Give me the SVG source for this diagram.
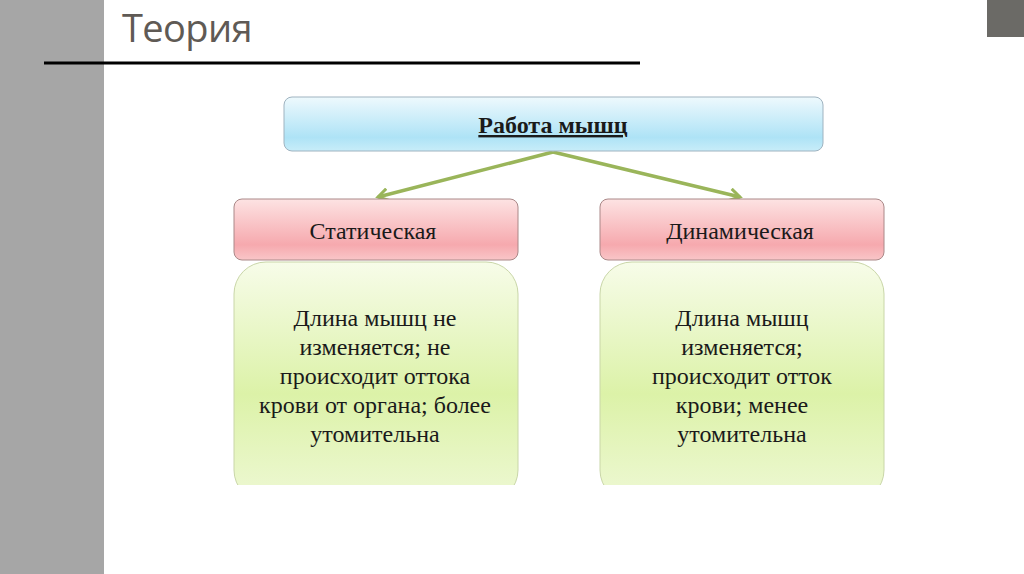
<svg xmlns="http://www.w3.org/2000/svg" width="1024" height="574" viewBox="0 0 1024 574">
  <defs>
    <linearGradient id="gBlue" x1="0" y1="0" x2="0" y2="1">
      <stop offset="0" stop-color="#eef9fd"/>
      <stop offset="0.75" stop-color="#aee3f6"/>
      <stop offset="1" stop-color="#c8edf9"/>
    </linearGradient>
    <linearGradient id="gPink" x1="0" y1="0" x2="0" y2="1">
      <stop offset="0" stop-color="#fde3e3"/>
      <stop offset="0.75" stop-color="#f6a9ae"/>
      <stop offset="1" stop-color="#f9c6c8"/>
    </linearGradient>
    <linearGradient id="gGreen" x1="0" y1="0" x2="0" y2="1">
      <stop offset="0" stop-color="#f7fce9"/>
      <stop offset="0.55" stop-color="#dcf2a8"/>
      <stop offset="1" stop-color="#eef8d4"/>
    </linearGradient>
    <marker id="arr" markerWidth="14" markerHeight="14" refX="11" refY="7" orient="auto" markerUnits="userSpaceOnUse">
      <path d="M1,1 L11,7 L1,13" fill="none" stroke="#9ab55a" stroke-width="3" stroke-linejoin="miter"/>
    </marker>
  </defs>
  <style>
    .body { font-family: "Liberation Serif", "DejaVu Serif", serif; font-size: 24px; fill: #1a1a1a; text-anchor: middle; }
    .head { font-family: "Liberation Serif", "DejaVu Serif", serif; font-size: 24px; fill: #1a1a1a; text-anchor: middle; }
    .edge { fill: none; stroke: #9ab55a; stroke-width: 3.5; }
  </style>
  <rect width="1024" height="574" fill="#ffffff"/>
  <rect x="0" y="0" width="104" height="574" fill="#a6a6a6"/>
  <rect x="987" y="0" width="37" height="37" fill="#6b6a66"/>
  <text x="122" y="42" font-family="'Open Sans', 'Noto Sans', sans-serif" font-size="38" letter-spacing="-0.6" fill="#5f5a55">Теория</text>
  <line x1="44" y1="63" x2="640" y2="63" stroke="#000" stroke-width="3"/>

  <g id="connectors">
    <path class="edge" d="M553,152 L378,197" marker-end="url(#arr)"/>
    <path class="edge" d="M553,152 L740,197" marker-end="url(#arr)"/>
  </g>

  <g id="root">
    <rect x="284" y="97" width="539" height="54" rx="8" fill="url(#gBlue)" stroke="#9fb3c0" stroke-width="1"/>
    <text x="553" y="133" font-family="'Liberation Serif', serif" font-size="24" font-weight="bold" fill="#1a1a1a" text-anchor="middle" text-decoration="underline">Работа мышц</text>
  </g>

  <g id="static-head">
    <rect x="234" y="199" width="284" height="61" rx="8" fill="url(#gPink)" stroke="#a88" stroke-width="1"/>
    <text class="head" x="373" y="239">Статическая</text>
  </g>
  <g id="static-body">
    <rect x="234" y="262" width="284" height="240" rx="32" fill="url(#gGreen)" stroke="#c9d6a8" stroke-width="1"/>
    <text class="body" x="375" y="326">Длина мышц не</text>
    <text class="body" x="375" y="355">изменяется; не</text>
    <text class="body" x="375" y="384">происходит оттока</text>
    <text class="body" x="375" y="413">крови от органа; более</text>
    <text class="body" x="375" y="442">утомительна</text>
  </g>

  <g id="dynamic-head">
    <rect x="600" y="199" width="284" height="61" rx="8" fill="url(#gPink)" stroke="#a88" stroke-width="1"/>
    <text class="head" x="740" y="239">Динамическая</text>
  </g>
  <g id="dynamic-body">
    <rect x="600" y="262" width="284" height="240" rx="32" fill="url(#gGreen)" stroke="#c9d6a8" stroke-width="1"/>
    <text class="body" x="742" y="326">Длина мышц</text>
    <text class="body" x="742" y="355">изменяется;</text>
    <text class="body" x="742" y="384">происходит отток</text>
    <text class="body" x="742" y="413">крови; менее</text>
    <text class="body" x="742" y="442">утомительна</text>
  </g>
  <rect x="220" y="485" width="680" height="30" fill="#ffffff"/>
</svg>
